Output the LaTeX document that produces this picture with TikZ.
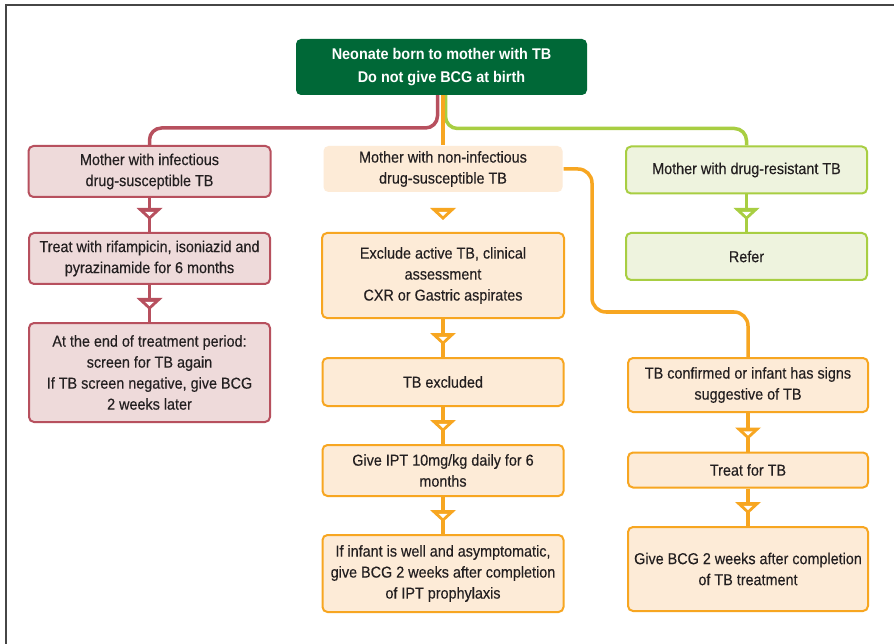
\documentclass[tikz,border=0pt]{standalone}
\usepackage{fontspec}
\setmainfont{Liberation Sans}[FakeStretch=0.91, FakeBold=0.3]
\newfontfamily\headfont{Liberation Sans}[FakeStretch=0.93]
\usetikzlibrary{calc}

\definecolor{headgreen}{RGB}{0,104,55}
\definecolor{maroon}{RGB}{183,80,94}
\definecolor{pinkfill}{RGB}{238,218,218}
\definecolor{amber}{RGB}{247,166,33}
\definecolor{peach}{RGB}{253,235,215}
\definecolor{lime}{RGB}{168,206,66}
\definecolor{limefill}{RGB}{238,243,222}
\definecolor{ink}{RGB}{35,31,32}
\definecolor{framegray}{RGB}{70,70,70}

\tikzset{
  box/.style={rectangle, rounded corners=5pt, line width=2pt, align=center,
    text=ink, font=\fontsize{15.8}{21}\selectfont, inner sep=2pt},
  redbox/.style={box, draw=maroon, fill=pinkfill},
  orangebox/.style={box, draw=amber, fill=peach},
  plainbox/.style={box, fill=peach},
  greenbox/.style={box, draw=lime, fill=limefill},
  headbox/.style={rectangle, rounded corners=5pt, fill=headgreen, text=white,
    align=center, font=\headfont\bfseries\fontsize{15.5}{23}\selectfont},
  flow/.style={line width=3.5pt},
  pics/downtri/.style={code={
    \fill[#1] (-13,-6) -- (13,-6) -- (0,6) -- cycle;
    \fill[white] (-4.5,-2.2) -- (4.5,-2.2) -- (0,2) -- cycle;
  }}
}

\begin{document}
\begin{tikzpicture}[x=1pt, y=-1pt]
\useasboundingbox (0,0) rectangle (894,644);
\fill[white] (0,0) rectangle (894,644);

% outer frame (top and left rules)
\draw[framegray, line width=1.5pt] (6,644) -- (6,5) -- (894,5);

% header
\node[headbox, minimum width=291pt, minimum height=56pt] (T) at (441.5,67)
  {Neonate born to mother with TB\\Do not give BCG at birth};

% left branch: infectious drug-susceptible TB
\node[redbox, minimum width=242pt, minimum height=51pt] (L1) at (149.5,171.5)
  {Mother with infectious\\drug-susceptible TB};
\node[redbox, minimum width=241pt, minimum height=51pt] (L2) at (149.5,258.5)
  {Treat with rifampicin, isoniazid and\\pyrazinamide for 6 months};
\node[redbox, minimum width=241pt, minimum height=99pt] (L3) at (149.5,372.5)
  {At the end of treatment period:\\screen for TB again\\If TB screen negative, give BCG\\2 weeks later};

% middle branch: non-infectious drug-susceptible TB
\node[plainbox, minimum width=239pt, minimum height=46pt] (O1) at (443,169)
  {Mother with non-infectious\\drug-susceptible TB};
\node[orangebox, minimum width=242pt, minimum height=85pt] (O2) at (443,275.5)
  {Exclude active TB, clinical\\assessment\\CXR or Gastric aspirates};
\node[orangebox, minimum width=241pt, minimum height=48pt] (O3) at (443,382)
  {TB excluded};
\node[orangebox, minimum width=241pt, minimum height=51pt] (O4) at (443,470.5)
  {Give IPT 10mg/kg daily for 6\\months};
\node[orangebox, minimum width=241pt, minimum height=77pt] (O5) at (443,573.5)
  {If infant is well and asymptomatic,\\give BCG 2 weeks after completion\\of IPT prophylaxis};

% right branch: drug-resistant TB
\node[greenbox, minimum width=241pt, minimum height=47pt] (G1) at (746.5,170)
  {Mother with drug-resistant TB};
\node[greenbox, minimum width=241pt, minimum height=47pt] (G2) at (746.5,256.5)
  {Refer};

% confirmed TB in the infant
\node[orangebox, minimum width=240pt, minimum height=54pt] (R1) at (748,385)
  {TB confirmed or infant has signs\\suggestive of TB};
\node[orangebox, minimum width=240pt, minimum height=35pt] (R2) at (748,470)
  {Treat for TB};
\node[orangebox, minimum width=240pt, minimum height=84pt] (R3) at (748,569)
  {Give BCG 2 weeks after completion\\of TB treatment};

% branches out of the header
\begin{scope}[flow, rounded corners=12pt]
  \draw[maroon] ([xshift=-4pt]T.south) |- ($(L1.north)+(0,-17)$) -- (L1.north);
  \draw[lime] ([xshift=4pt]T.south) |- ($(G1.north)+(0,-17)$) -- (G1.north);
\end{scope}
\draw[flow, amber] (T.south -| O1.north) -- (O1.north);

% route from the non-infectious mother to confirmed TB
\coordinate (bend) at (592,312);
\draw[flow, amber, rounded corners=14pt] (O1.east) -| (bend) -| (R1.north);

% vertical steps
\draw[flow, maroon] (L1) -- (L2);
\draw[flow, maroon] (L2) -- (L3);
\draw[flow, amber] (O2) -- (O3);
\draw[flow, amber] (O3) -- (O4);
\draw[flow, amber] (O4) -- (O5);
\draw[flow, lime] (G1.south) -- (G1.south |- G2.north);
\draw[flow, amber] (R1) -- (R2);
\draw[flow, amber] (R2) -- (R3);

% arrowheads
\pic at ($(L2.north)+(0,-18)$) {downtri=maroon};
\pic at ($(L3.north)+(0,-18)$) {downtri=maroon};
\pic at ($(O2.north)+(0,-18)$) {downtri=amber};
\pic at ($(O3.north)+(0,-18)$) {downtri=amber};
\pic at ($(O4.north)+(0,-18)$) {downtri=amber};
\pic at ($(O5.north)+(0,-18)$) {downtri=amber};
\pic at ($(G1.south |- G2.north)+(0,-18)$) {downtri=lime};
\pic at ($(R2.north)+(0,-18)$) {downtri=amber};
\pic at ($(R3.north)+(0,-18)$) {downtri=amber};
\end{tikzpicture}
\end{document}
